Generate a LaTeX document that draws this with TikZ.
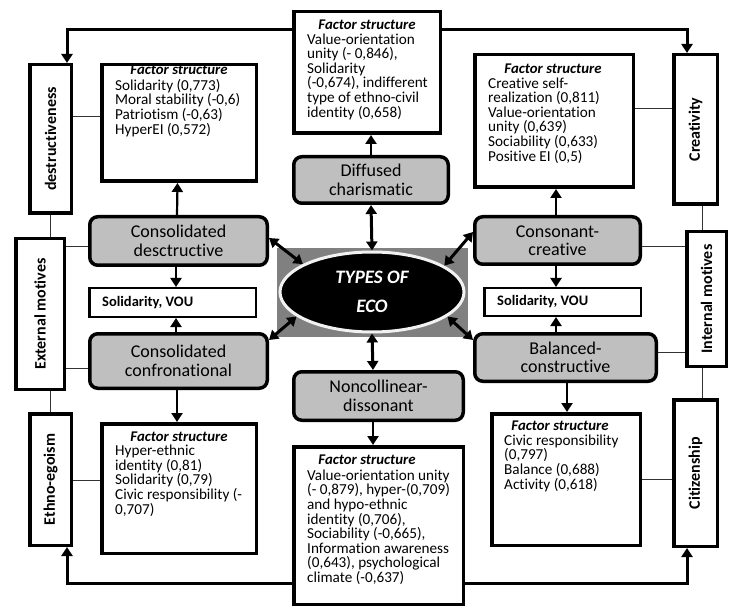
\documentclass[tikz,border=0pt]{standalone}
\usepackage{fontspec}
\setmainfont{Carlito}[Ligatures={NoCommon}]
\usetikzlibrary{arrows.meta,shapes.geometric}
\definecolor{boxgray}{HTML}{BFBFBF}
\definecolor{midgray}{HTML}{808080}
\definecolor{ringgray}{HTML}{F2F2F2}
\begin{document}
\begin{tikzpicture}[x=1pt,y=-1pt,
  fbox/.style={draw, line width=3.5pt, fill=white, inner sep=0pt},
  gbox/.style={draw, line width=3.5pt, fill=boxgray, rounded corners=8pt, inner sep=0pt, align=center, font=\fontsize{18}{18.5}\selectfont},
  sidebox/.style={draw, line width=3.5pt, fill=white, inner sep=0pt},
  sidetext/.style={rotate=90, inner sep=0pt, font=\bfseries\fontsize{16}{16}\selectfont},
  vbox/.style={draw, line width=2.5pt, fill=white, inner sep=0pt},
  vtext/.style={anchor=west, inner sep=0pt, font=\bfseries\fontsize{14.5}{14.5}\selectfont},
  hdr/.style={anchor=base, inner sep=0pt, font=\bfseries\itshape\fontsize{14.8}{14.5}\selectfont},
  body/.style={anchor=north west, inner sep=0pt, align=left, font=\fontsize{15.2}{14.6}\selectfont},
  link/.style={line width=1pt, black!80},
  bigarr/.style={line width=3pt, -{Triangle[length=9pt,width=11pt]}},
  midarr/.style={line width=2.2pt, -{Triangle[length=9pt,width=11pt]}},
  dblarr/.style={line width=3pt, {Triangle[length=9pt,width=11pt]}-{Triangle[length=9pt,width=11pt]}},
]
\fill[white] (0,0) rectangle (730,609);
\useasboundingbox (0,0) rectangle (730,609);

% side boxes
\node[sidebox, minimum width=41.5pt, minimum height=148.5pt] (dest) at (50.5,139) {};
\node[sidetext] (destt) at (dest.center) {destructiveness};
\node[sidebox, minimum width=48.5pt, minimum height=150.5pt] (ext) at (40,314) {};
\node[sidetext] (extt) at (ext.center) {External motives};
\node[sidebox, minimum width=41.5pt, minimum height=131.5pt] (ethno) at (50.5,479.5) {};
\node[sidetext] (ethnot) at (ethno.center) {Ethno-egoism};
\node[sidebox, minimum width=43.5pt, minimum height=149.5pt] (crea) at (695.5,129.5) {};
\node[sidetext] (creat) at (crea.center) {Creativity};
\node[sidebox, minimum width=39.5pt, minimum height=134.5pt] (intm) at (706.5,299) {};
\node[sidetext] (intmt) at (intm.center) {Internal motives};
\node[sidebox, minimum width=43.5pt, minimum height=146.5pt] (citi) at (695.5,473) {};
\node[sidetext] (citit) at (citi.center) {Citizenship};

% factor boxes
\node[fbox, minimum width=154.5pt, minimum height=116.5pt] (ftl) at (179,123) {};
\node[hdr] (ftlh) at (179,75) {Factor structure};
\node[body] (ftlb) at (115,79) {\rule{0pt}{11pt}Solidarity (0,773)\\Moral stability (-0,6)\\Patriotism (-0,63)\\HyperEI (0,572)};

\node[fbox, minimum width=146.5pt, minimum height=121.5pt] (ftm) at (367,72.5) {};
\node[hdr] (ftmh) at (367,29.5) {Factor structure};
\node[body] (ftmb) at (307,33) {\rule{0pt}{11pt}Value-orientation\\unity (- 0,846),\\Solidarity\\(-0,674), indifferent\\type of ethno-civil\\identity (0,658)};

\node[fbox, minimum width=158.5pt, minimum height=132.5pt] (ftr) at (554,121) {};
\node[hdr] (ftrh) at (553,73.5) {Factor structure};
\node[body] (ftrb) at (488,77) {\rule{0pt}{11pt}Creative self-\\realization (0,811)\\Value-orientation\\unity (0,639)\\Sociability (0,633)\\Positive EI (0,5)};

\node[fbox, minimum width=154.5pt, minimum height=129.5pt] (fbl) at (179,488.5) {};
\node[hdr] (fblh) at (179,441) {Factor structure};
\node[body] (fblb) at (115,444.5) {\rule{0pt}{11pt}Hyper-ethnic\\identity (0,81)\\Solidarity (0,79)\\Civic responsibility (-\\0,707)};

\node[fbox, minimum width=169.5pt, minimum height=157.5pt] (fbm) at (378.5,525.5) {};
\node[hdr] (fbmh) at (367,464.5) {Factor structure};
\node[body] (fbmb) at (307,469) {\rule{0pt}{11pt}Value-orientation unity\\(- 0,879), hyper-(0,709)\\and hypo-ethnic\\identity (0,706),\\Sociability (-0,665),\\Information awareness\\(0,643), psychological\\climate (-0,637)};

\node[fbox, minimum width=148.5pt, minimum height=131.5pt] (fbr) at (566,479.5) {};
\node[hdr] (fbrh) at (560,430) {Factor structure};
\node[body] (fbrb) at (504,434) {\rule{0pt}{11pt}Civic responsibility\\(0,797)\\Balance (0,688)\\Activity (0,618)};

% gray type boxes
\node[gbox, minimum width=177.5pt, minimum height=48.5pt] (cd) at (178.5,241) {Consolidated\\desctructive};
\node[gbox, minimum width=177.5pt, minimum height=54.5pt] (cc) at (178.5,361) {Consolidated\\confronational};
\node[gbox, minimum width=154.5pt, minimum height=46.5pt] (dc) at (371,180) {Diffused\\charismatic};
\node[gbox, minimum width=169.5pt, minimum height=48.5pt] (nd) at (378.5,396) {Noncollinear-\\dissonant};
\node[gbox, minimum width=165.5pt, minimum height=47.5pt] (ccr) at (557.5,240.5) {Consonant-\\creative};
\node[gbox, minimum width=181.5pt, minimum height=47.5pt] (bc) at (565.5,357.5) {Balanced-\\constructive};

% solidarity boxes
\node[vbox, minimum width=166.5pt, minimum height=28.5pt] (sl) at (172.5,302.5) {};
\node[vtext] (slt) at (102,302.5) {Solidarity, VOU};
\node[vbox, minimum width=156.5pt, minimum height=27.5pt] (sr) at (562.5,302) {};
\node[vtext] (srt) at (497,302) {Solidarity, VOU};

% center
\node[fill=midgray, minimum width=191pt, minimum height=89pt, inner sep=0pt] (bgr) at (372.5,292.5) {};
\node[ellipse, fill=black, draw=ringgray, line width=3pt, minimum width=184pt, minimum height=80pt, inner sep=0pt,
      text=white, align=center, font=\bfseries\itshape\fontsize{19}{29}\selectfont] (eco) at (372,292) {TYPES OF\\ECO};

% thin links
\draw[link] ([yshift=22pt]dest.east) -- ([yshift=6pt]ftl.west);
\draw[link] ([xshift=-0.5pt]dest.south) -- ([xshift=10pt]ext.north);
\draw[link] ([yshift=67pt]ext.east) -- ([yshift=-6pt]cd.west);
\draw[link] ([yshift=-54pt]ext.east) -- ([yshift=-7pt]cc.west);
\draw[link] ([xshift=10pt]ext.south) -- ([xshift=-0.5pt]ethno.north);
\draw[link] ([yshift=-0.5pt]ethno.east) -- ([yshift=8.5pt]fbl.west);
\draw[link] ([xshift=6.5pt]crea.south) -- ([xshift=-4.5pt]intm.north);
\draw[link] ([yshift=-6.5pt]ccr.east) -- ([yshift=52pt]intm.west);
\draw[link] ([yshift=5.5pt]bc.east) -- ([yshift=-53pt]intm.west);
\draw[link] ([xshift=-4.5pt]intm.south) -- ([xshift=6.5pt]citi.north);
\draw[link] ([yshift=12pt]ftr.east) -- ([yshift=20.5pt]crea.west);
\draw[link] ([yshift=0.5pt]fbr.east) -- ([yshift=-6pt]citi.west);

% big loops
\draw[bigarr] ([yshift=42.5pt]ftm.west) -| ([xshift=16.5pt]dest.north);
\draw[bigarr] ([yshift=42.5pt]ftm.east) -| ([xshift=-8.5pt]crea.north);
\draw[bigarr] ([yshift=-57.5pt]fbm.west) -| ([xshift=16.5pt]ethno.south);
\draw[bigarr] ([yshift=-57.5pt]fbm.east) -| ([xshift=-8.5pt]citi.south);

% medium arrows
\draw[midarr] ([xshift=-1.5pt]cd.north) -- ([xshift=-1.5pt]ftl.south);
\draw[midarr] ([xshift=-2.5pt]cd.south) -- ([xshift=3.5pt]sl.north);
\draw[midarr] ([xshift=-2.5pt]cc.north) -- ([xshift=3.5pt]sl.south);
\draw[midarr] ([xshift=-1.5pt]cc.south) -- ([xshift=-2pt]fbl.north);
\draw[midarr] (dc.north) -- ([xshift=4pt]ftm.south);
\draw[midarr] ([xshift=-5.5pt]nd.south) -- ([xshift=-5.5pt]fbm.north);
\draw[midarr] ([xshift=-1.5pt]ccr.north) -- ([xshift=2pt]ftr.south);
\draw[midarr] ([xshift=-1.5pt]ccr.south) -- ([xshift=-6.5pt]sr.north);
\draw[midarr] ([xshift=-9.5pt]bc.north) -- ([xshift=-6.5pt]sr.south);
\draw[midarr] ([xshift=1.5pt]bc.south) -- ([xshift=1pt]fbr.north);

% double arrows to center
\draw[dblarr] (dc.south) -- (eco.north);
\draw[dblarr] (eco.south) -- ([xshift=-5.5pt]nd.north);
\draw[dblarr] ([yshift=3pt]cd.east) -- (eco.158);
\draw[dblarr] ([yshift=21pt]cc.east) -- (eco.198);
\draw[dblarr] ([yshift=8.5pt]ccr.west) -- (eco.20);
\draw[dblarr] ([yshift=17.5pt]bc.west) -- (eco.342);
\end{tikzpicture}
\end{document}
